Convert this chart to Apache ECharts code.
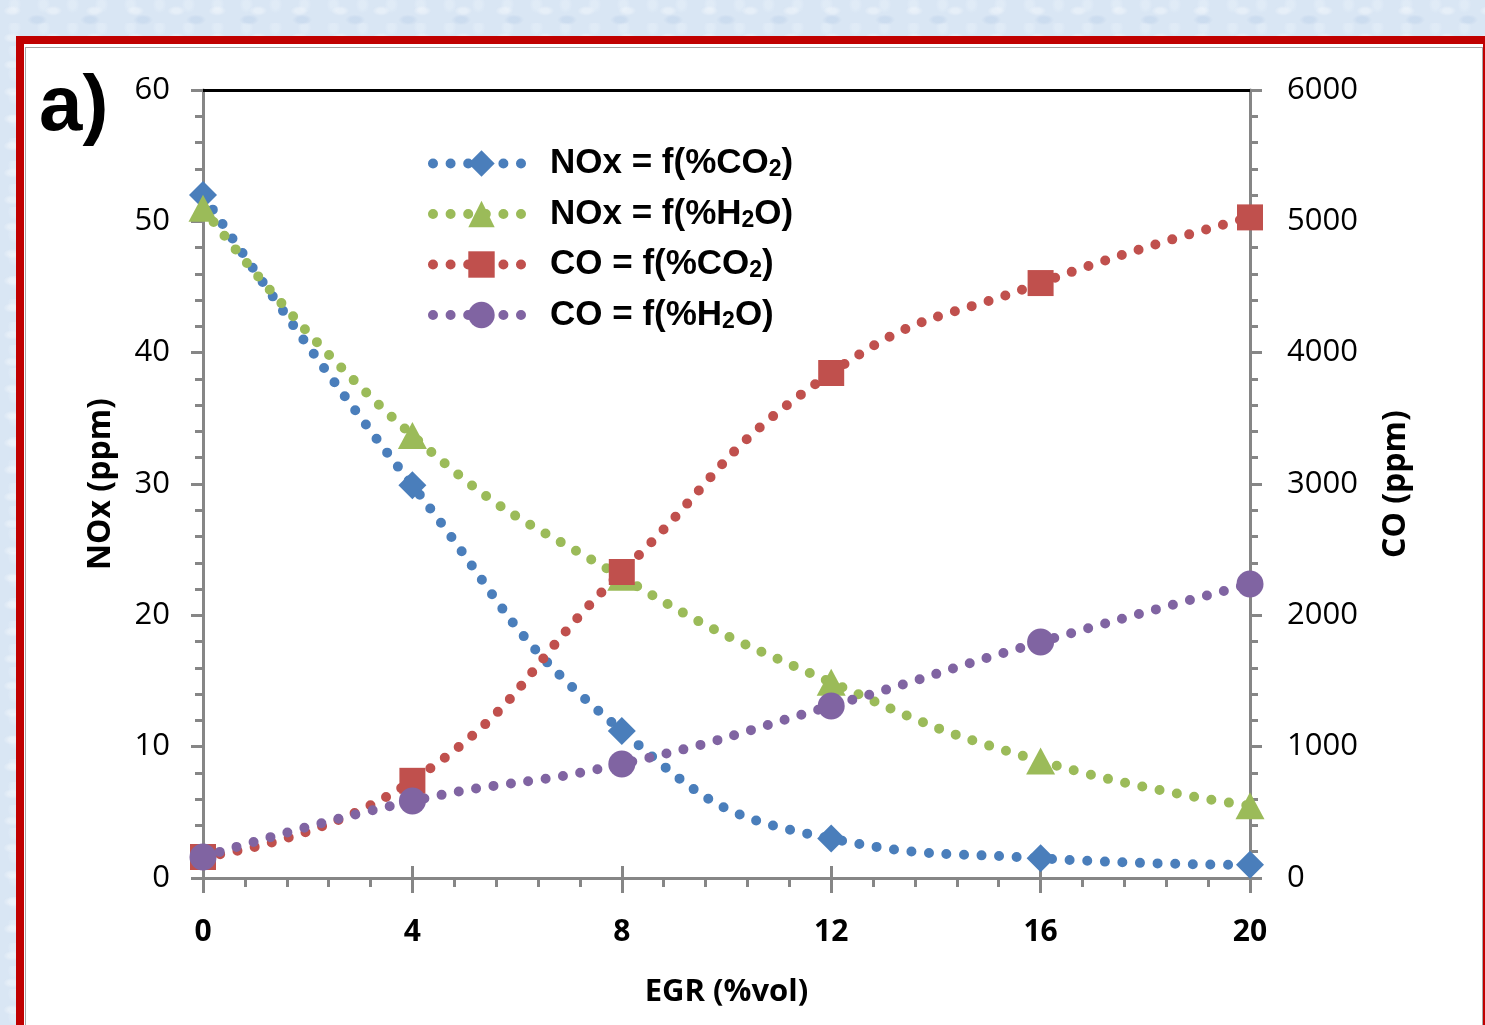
<!DOCTYPE html>
<html>
<head>
<meta charset="utf-8">
<script src="https://cdn.jsdelivr.net/npm/echarts@6/dist/echarts.min.js"></script>
<style>
html,body{margin:0;padding:0;width:1485px;height:1025px;overflow:hidden;}
body{
  background-color:#d9e6f4;
  background-image:
    radial-gradient(ellipse at 30% 40%, rgba(255,255,255,0.35) 0 4px, transparent 9px),
    radial-gradient(ellipse at 70% 60%, rgba(180,202,230,0.35) 0 5px, transparent 10px),
    radial-gradient(ellipse at 50% 20%, rgba(235,243,251,0.4) 0 3px, transparent 7px);
  background-size: 41px 27px, 53px 33px, 29px 23px;
}
#red{position:absolute;left:16px;top:36px;width:1500px;height:1020px;background:#c00000;}
#white{position:absolute;left:24px;top:44px;width:1459px;height:1010px;background:#fff;}
#inner{position:absolute;left:25px;top:47px;width:1456px;height:1010px;border:1.5px solid #a6a6a6;background:#fff;}
#chart{position:absolute;left:0;top:0;width:1485px;height:1025px;}
</style>
</head>
<body>
<div id="red"></div>
<div id="white"></div>
<div id="inner"></div>
<div id="chart"></div>
<script>
// ---- data ----
const egr = [0, 4, 8, 12, 16, 20];
const noxCO2 = [52.0, 29.9, 11.2, 3.0, 1.5, 1.0];
const noxH2O = [51.0, 33.7, 22.9, 14.9, 8.9, 5.5];
const coCO2 = [160, 740, 2330, 3845, 4530, 5030];
const coH2O = [160, 586, 868, 1310, 1797, 2239];
const seriesNames = ['NOx = f(%CO2)', 'NOx = f(%H2O)', 'CO = f(%CO2)', 'CO = f(%H2O)'];
const legendRich = {
  'NOx = f(%CO2)': '{t|NOx = f(%CO}{s|2}{t|)}',
  'NOx = f(%H2O)': '{t|NOx = f(%H}{s|2}{t|O)}',
  'CO = f(%CO2)': '{t|CO = f(%CO}{s|2}{t|)}',
  'CO = f(%H2O)': '{t|CO = f(%H}{s|2}{t|O)}'
};
const xTicks = {min: 0, max: 20, interval: 4};
const yLeftTicks = {min: 0, max: 60, interval: 10};
const yRightTicks = {min: 0, max: 6000, interval: 1000};
const colors = ['#4a7ebb', '#9bbb59', '#c0504d', '#8064a2'];

const zip = (xs, ys) => xs.map((x, i) => [x, ys[i]]);
const AX = '#868686';
const NUMFONT = 'Open Sans';
const DOT_W = 10;
const DOT_DASH = [0, 17.6];

function mkSeries(i, data, yIdx, symbol, size) {
  return {
    name: seriesNames[i], type: 'line', xAxisIndex: 0, yAxisIndex: yIdx,
    data: data, smooth: 0.5, symbol: symbol, symbolSize: size, clip: false,
    lineStyle: {color: colors[i], width: DOT_W, type: DOT_DASH, cap: 'round'},
    itemStyle: {color: colors[i]}, z: 2 + i
  };
}

const chart = echarts.init(document.getElementById('chart'));
chart.setOption({
  animation: false,
  title: {
    text: 'a)', left: 34, top: 64,
    textStyle: {fontFamily: 'Liberation Sans', fontWeight: 'bold', fontSize: 78, color: '#000'}
  },
  grid: {left: 203, right: 235, top: 90, bottom: 147},
  legend: {
    orient: 'vertical', left: 428, top: 146, padding: 0,
    itemWidth: 97, itemHeight: 33, itemGap: 15,
    data: seriesNames,
    formatter: n => legendRich[n],
    lineStyle: {width: DOT_W, type: DOT_DASH, cap: 'round'},
    textStyle: {
      padding: [0, 0, 0, 15],
      rich: {
        t: {fontFamily: 'Liberation Sans', fontWeight: 'bold', fontSize: 35, lineHeight: 36, color: '#000'},
        s: {fontFamily: 'Liberation Sans', fontWeight: 'bold', fontSize: 23, lineHeight: 16, verticalAlign: 'bottom', color: '#000'}
      }
    }
  },
  xAxis: [
    {
      type: 'value', position: 'bottom', min: xTicks.min, max: xTicks.max, interval: xTicks.interval,
      axisLine: {onZero: false, lineStyle: {color: AX, width: 3}},
      axisTick: {length: 15, lineStyle: {color: AX, width: 3}},
      minorTick: {show: true, splitNumber: 5, length: 9, lineStyle: {color: AX, width: 3}},
      splitLine: {show: false},
      axisLabel: {margin: 39, fontFamily: NUMFONT, fontWeight: 'bold', fontSize: 30, color: '#000'},
      name: 'EGR (%vol)', nameLocation: 'middle', nameGap: 99,
      nameTextStyle: {fontFamily: NUMFONT, fontWeight: 'bold', fontSize: 31, color: '#000'}
    },
    {
      type: 'value', position: 'top', min: xTicks.min, max: xTicks.max,
      axisLine: {onZero: false, lineStyle: {color: '#000', width: 3}},
      axisTick: {show: false}, axisLabel: {show: false}, splitLine: {show: false}
    },
    {
      type: 'value', position: 'bottom', min: xTicks.min, max: xTicks.max, interval: xTicks.interval,
      axisLine: {show: false, onZero: false},
      axisTick: {inside: true, length: 12, lineStyle: {color: AX, width: 3}},
      axisLabel: {show: false}, splitLine: {show: false}
    }
  ],
  yAxis: [
    {
      type: 'value', position: 'left', min: yLeftTicks.min, max: yLeftTicks.max, interval: yLeftTicks.interval,
      axisLine: {show: true, onZero: false, lineStyle: {color: AX, width: 3}},
      axisTick: {show: true, length: 12, lineStyle: {color: AX, width: 3}},
      minorTick: {show: true, splitNumber: 5, length: 8, lineStyle: {color: AX, width: 3}},
      splitLine: {show: false},
      axisLabel: {margin: 33, fontFamily: NUMFONT, fontSize: 31, color: '#000', formatter: v => String(v)},
      name: 'NOx (ppm)', nameLocation: 'middle', nameGap: 86,
      nameTextStyle: {fontFamily: NUMFONT, fontWeight: 'bold', fontSize: 32, color: '#000'}
    },
    {
      type: 'value', position: 'right', min: yRightTicks.min, max: yRightTicks.max, interval: yRightTicks.interval,
      axisLine: {show: true, onZero: false, lineStyle: {color: AX, width: 3}},
      axisTick: {show: true, length: 12, lineStyle: {color: AX, width: 3}},
      minorTick: {show: true, splitNumber: 5, length: 8, lineStyle: {color: AX, width: 3}},
      splitLine: {show: false},
      axisLabel: {margin: 37, fontFamily: NUMFONT, fontSize: 31, color: '#000', formatter: v => String(v)},
      name: 'CO (ppm)', nameLocation: 'middle', nameGap: 130,
      nameTextStyle: {fontFamily: NUMFONT, fontWeight: 'bold', fontSize: 32, color: '#000'}
    }
  ],
  series: [
    mkSeries(0, zip(egr, noxCO2), 0, 'diamond', 28),
    mkSeries(1, zip(egr, noxH2O), 0, 'triangle', [29, 27]),
    mkSeries(2, zip(egr, coCO2), 1, 'rect', 26),
    mkSeries(3, zip(egr, coH2O), 1, 'circle', 27)
  ]
});
</script>
</body>
</html>
